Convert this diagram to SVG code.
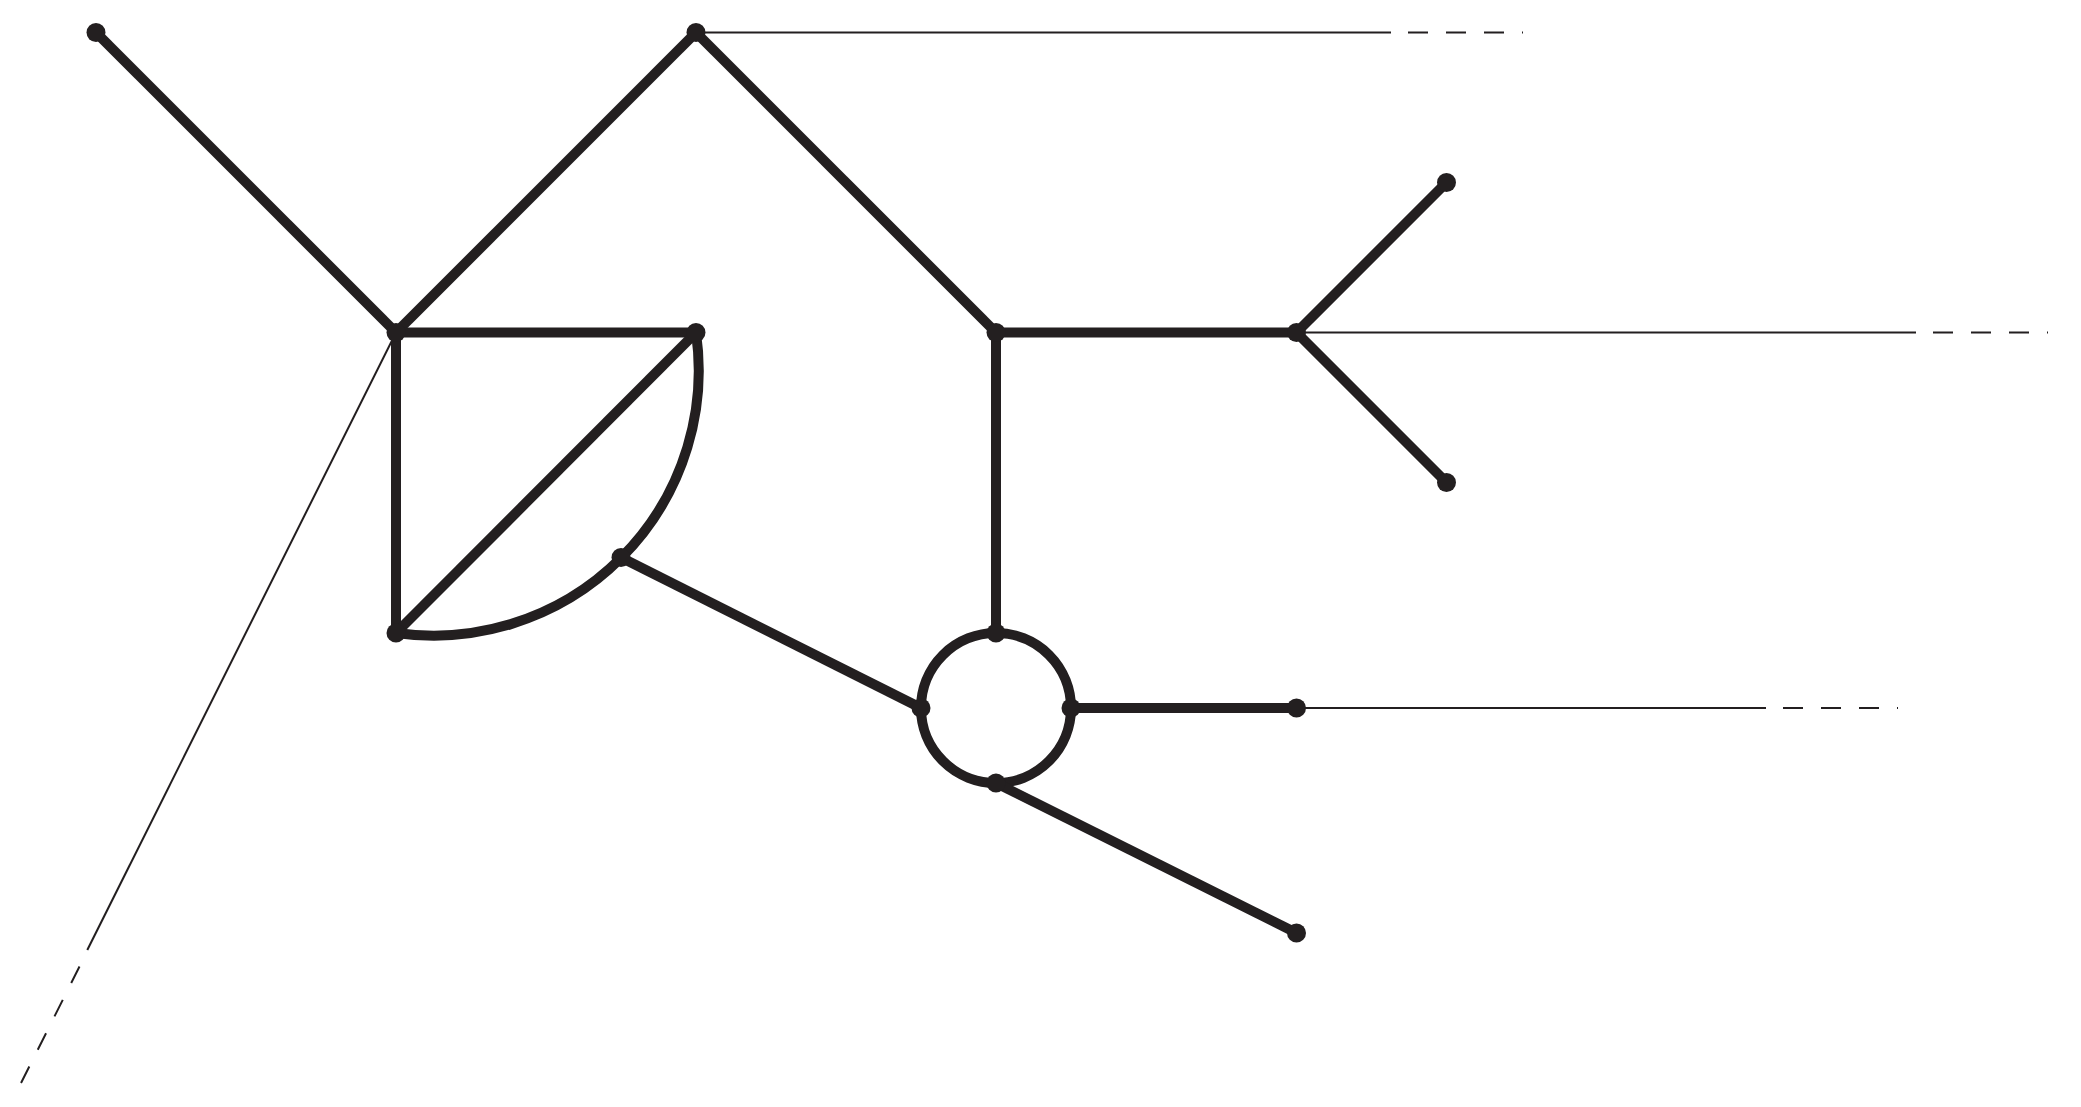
<svg xmlns="http://www.w3.org/2000/svg" width="2081" height="1107" viewBox="0 0 2081 1107">
<style>
.e{stroke:#231f20;stroke-width:10;fill:none;stroke-linecap:butt}
.t{stroke:#231f20;stroke-width:2;fill:none}
.d{stroke:#231f20;stroke-width:2;fill:none;stroke-dasharray:20 18}
.n{fill:#231f20}
</style>
<rect width="2081" height="1107" fill="#fff"/>
<g id="connectors">
<line class="e" x1="96" y1="32.5" x2="396" y2="332.5"/>
<line class="e" x1="696" y1="32.5" x2="396" y2="332.5"/>
<line class="e" x1="696" y1="32.5" x2="996" y2="332.5"/>
<line class="e" x1="396" y1="332.5" x2="696" y2="332.5"/>
<line class="e" x1="396" y1="332.5" x2="396" y2="633"/>
<line class="e" x1="396" y1="633" x2="696" y2="332.5"/>
<path class="e" d="M696 332.5 A265.2 265.2 0 0 1 396 633"/>
<line class="e" x1="621" y1="557.5" x2="921" y2="708"/>
<line class="e" x1="996" y1="332.5" x2="1296.5" y2="332.5"/>
<line class="e" x1="996" y1="332.5" x2="996" y2="633"/>
<line class="e" x1="1296.5" y1="332.5" x2="1446.5" y2="182.5"/>
<line class="e" x1="1296.5" y1="332.5" x2="1446.5" y2="482.5"/>
<circle class="e" cx="996" cy="708" r="75"/>
<line class="e" x1="1071" y1="708" x2="1296.5" y2="708"/>
<line class="e" x1="996" y1="783" x2="1296.5" y2="933"/>
<line class="t" x1="696" y1="32.5" x2="1391" y2="32.5"/>
<line class="d" x1="1408" y1="32.5" x2="1523" y2="32.5"/>
<line class="t" x1="1296.5" y1="332.5" x2="1916" y2="332.5"/>
<line class="d" x1="1933" y1="332.5" x2="2048" y2="332.5"/>
<line class="t" x1="1296.5" y1="708" x2="1766" y2="708"/>
<line class="d" x1="1783" y1="708" x2="1898" y2="708"/>
<line class="t" x1="396" y1="332.5" x2="87.3" y2="950"/>
<line class="t" x1="79.5" y1="966.5" x2="20.8" y2="1083.5" style="stroke-dasharray:18.5 18.8"/>
</g>
<g id="nA"><circle class="n" cx="96" cy="32.5" r="9.5"/></g>
<g id="nB"><circle class="n" cx="696" cy="32.5" r="9.5"/></g>
<g id="nC"><circle class="n" cx="396" cy="332.5" r="9.5"/></g>
<g id="nD"><circle class="n" cx="696" cy="332.5" r="9.5"/></g>
<g id="nE"><circle class="n" cx="996" cy="332.5" r="9.5"/></g>
<g id="nF"><circle class="n" cx="1296.5" cy="332.5" r="9.5"/></g>
<g id="nG"><circle class="n" cx="1446.5" cy="182.5" r="9.5"/></g>
<g id="nH"><circle class="n" cx="1446.5" cy="482.5" r="9.5"/></g>
<g id="nI"><circle class="n" cx="396" cy="633" r="9.5"/></g>
<g id="nJ"><circle class="n" cx="621" cy="557.5" r="9.5"/></g>
<g id="nTop"><circle class="n" cx="996" cy="633" r="9.5"/></g>
<g id="nLeft"><circle class="n" cx="921" cy="708" r="9.5"/></g>
<g id="nRight"><circle class="n" cx="1071" cy="708" r="9.5"/></g>
<g id="nBottom"><circle class="n" cx="996" cy="783" r="9.5"/></g>
<g id="nK"><circle class="n" cx="1296.5" cy="708" r="9.5"/></g>
<g id="nL"><circle class="n" cx="1296.5" cy="933" r="9.5"/></g>
</svg>
